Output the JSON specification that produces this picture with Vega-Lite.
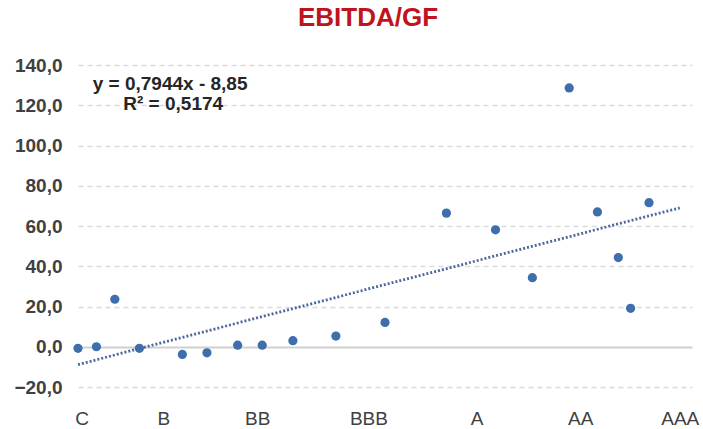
{
  "$schema": "https://vega.github.io/schema/vega-lite/v6.json",
  "width": 614,
  "height": 322,
  "autosize": {"type": "none"},
  "padding": {"left": 78, "top": 65, "right": 11, "bottom": 42},
  "background": "white",
  "title": {
    "text": "EBITDA/GF",
    "color": "#C0141C",
    "font": "Liberation Sans",
    "fontSize": 26,
    "fontWeight": "bold",
    "anchor": "middle",
    "offset": 25,
    "dx": -17
  },
  "config": {
    "view": {"stroke": null},
    "font": "Liberation Sans"
  },
  "layer": [
    {
      "data": {
        "values": [
          {"rating": 0, "value": -0.8},
          {"rating": 3, "value": 0},
          {"rating": 6, "value": 23.6},
          {"rating": 10, "value": -0.8},
          {"rating": 17, "value": -3.8},
          {"rating": 21, "value": -3.0},
          {"rating": 26, "value": 0.8},
          {"rating": 30, "value": 0.8},
          {"rating": 35, "value": 3.0},
          {"rating": 42, "value": 5.3},
          {"rating": 50, "value": 12.1},
          {"rating": 60, "value": 66.4},
          {"rating": 68, "value": 58.1},
          {"rating": 74, "value": 34.3},
          {"rating": 80, "value": 128.6},
          {"rating": 84.6, "value": 67.0},
          {"rating": 88, "value": 44.3},
          {"rating": 90, "value": 19.1},
          {"rating": 93, "value": 71.6}
        ]
      },
      "mark": {"type": "circle", "size": 85, "color": "#3F6EAD", "opacity": 1},
      "encoding": {
        "x": {
          "field": "rating",
          "type": "quantitative",
          "scale": {"domain": [0, 100], "nice": false, "zero": false},
          "axis": {
            "title": null,
            "grid": false,
            "domain": false,
            "ticks": false,
            "values": [0.6, 13.9, 29.2, 47.3, 64.9, 81.8, 98.0],
            "labelExpr": "datum.value < 5 ? 'C' : datum.value < 20 ? 'B' : datum.value < 40 ? 'BB' : datum.value < 55 ? 'BBB' : datum.value < 70 ? 'A' : datum.value < 90 ? 'AA' : 'AAA'",
            "labelFontSize": 19,
            "labelColor": "#404040",
            "labelPadding": 22,
            "labelFlush": false,
            "labelOverlap": false
          }
        },
        "y": {
          "field": "value",
          "type": "quantitative",
          "scale": {"domain": [-20, 140], "nice": false},
          "axis": {
            "title": null,
            "grid": true,
            "values": [-20, 0, 20, 40, 60, 80, 100, 120, 140],
            "format": ".1f",
            "labelExpr": "replace(datum.label, '.', ',')",
            "labelFontSize": 19,
            "labelFontWeight": "bold",
            "labelColor": "#404040",
            "labelPadding": 16,
            "domain": false,
            "ticks": false,
            "gridColor": {"condition": {"test": "datum.value === 0", "value": "#d0d0d0"}, "value": "#dadada"},
            "gridDash": {"condition": {"test": "datum.value === 0", "value": [1, 0]}, "value": [5, 4]},
            "gridWidth": {"condition": {"test": "datum.value === 0", "value": 2}, "value": 1.5}
          }
        }
      }
    },
    {
      "data": {
        "values": [
          {"rating": 0, "value": -8.85},
          {"rating": 98, "value": 69.0}
        ]
      },
      "mark": {"type": "line", "color": "#4A6A9C", "strokeWidth": 2.8, "strokeDash": [2, 2]},
      "encoding": {
        "x": {"field": "rating", "type": "quantitative"},
        "y": {"field": "value", "type": "quantitative"}
      }
    },
    {
      "data": {"values": [{"line": "equation"}]},
      "mark": {"type": "text", "text": "y = 0,7944x  - 8,85", "fontSize": 19, "fontWeight": "bold", "color": "#262626", "align": "center", "baseline": "middle"},
      "encoding": {
        "x": {"datum": 15.0, "type": "quantitative"},
        "y": {"datum": 130.5, "type": "quantitative"}
      }
    },
    {
      "data": {"values": [{"line": "r2"}]},
      "mark": {"type": "text", "text": "R² = 0,5174", "fontSize": 19, "fontWeight": "bold", "color": "#262626", "align": "center", "baseline": "middle"},
      "encoding": {
        "x": {"datum": 15.5, "type": "quantitative"},
        "y": {"datum": 120.6, "type": "quantitative"}
      }
    }
  ]
}
